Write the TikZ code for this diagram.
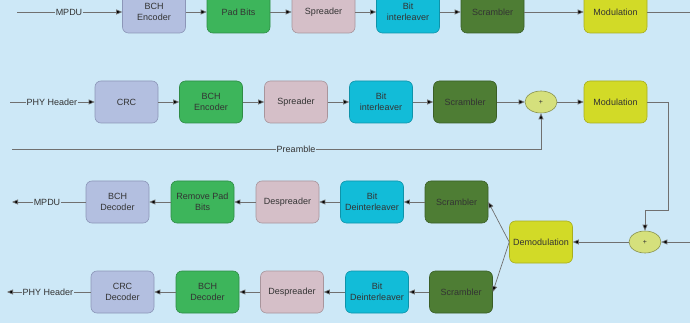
\documentclass[tikz,border=0pt]{standalone}
\usepackage{fontspec}
\setmainfont{Liberation Sans}
\usetikzlibrary{arrows.meta,shapes.geometric}
\definecolor{bg}{HTML}{CDE8F7}
\definecolor{lavf}{HTML}{B3BFE0}\definecolor{lavd}{HTML}{8C96B8}
\definecolor{grnf}{HTML}{3DB55B}\definecolor{grnd}{HTML}{2E8C45}
\definecolor{pnkf}{HTML}{D5BFC8}\definecolor{pnkd}{HTML}{A8959C}
\definecolor{cyf}{HTML}{12BCD8}\definecolor{cyd}{HTML}{0E93AA}
\definecolor{dgf}{HTML}{4E7D34}\definecolor{dgd}{HTML}{3A5E26}
\definecolor{ylf}{HTML}{D2DA27}\definecolor{yld}{HTML}{A8AE1F}
\definecolor{elf}{HTML}{D5E07C}\definecolor{eld}{HTML}{8A9450}
\definecolor{ln}{HTML}{707070}
\definecolor{tx}{HTML}{333333}
\tikzset{
  blk/.style={rounded corners=6pt, minimum width=63pt, minimum height=42pt, align=center, inner sep=1pt, font=\fontsize{9}{10.5}\selectfont, text=tx, line width=0.6pt},
  lav/.style={blk, fill=lavf, draw=lavd},
  grn/.style={blk, fill=grnf, draw=grnd},
  pnk/.style={blk, fill=pnkf, draw=pnkd},
  cyn/.style={blk, fill=cyf, draw=cyd},
  dgr/.style={blk, fill=dgf, draw=dgd},
  ylw/.style={blk, fill=ylf, draw=yld},
  sumnode/.style={ellipse, fill=elf, draw=eld, minimum width=32pt, minimum height=22pt, inner sep=0pt, font=\fontsize{7}{8}\selectfont, text=tx, line width=0.6pt},
  lbl/.style={fill=bg, inner sep=0.5pt, font=\fontsize{9}{10.5}\selectfont, text=tx},
  conn/.style={draw=ln, line width=0.7pt, -{Triangle[length=6pt,width=5pt,fill=black]}},
  plain/.style={draw=ln, line width=0.7pt},
}
\begin{document}
\begin{tikzpicture}[x=1pt,y=-1pt]
\fill[bg] (0,0) rectangle (690,323);
\useasboundingbox (0,0) rectangle (690,323);
% Row 1
\node[lav] (b1) at (154,12) {BCH\\Encoder};
\node[grn] (p1) at (238.5,12) {Pad Bits};
\node[pnk] (s1) at (323.5,12) {Spreader};
\node[cyn] (i1) at (408,12) {Bit\\interleaver};
\node[dgr] (c1) at (492.5,12) {Scrambler};
\node[ylw] (m1) at (615.5,12) {Modulation};
\coordinate (in1) at (17,12);
\coordinate (out1) at (690,12);
\node[lbl] (t1) at (69,12) {MPDU};
\draw[plain] (in1) -- (t1.west);
\draw[conn] (t1.east) -- (b1);
\draw[conn] (b1) -- (p1);
\draw[conn] (p1) -- (s1);
\draw[conn] (s1) -- (i1);
\draw[conn] (i1) -- (c1);
\draw[conn] (c1) -- (m1);
\draw[plain] (m1) -- (out1);
% Row 2
\node[lav] (cr2) at (126.5,102) {CRC};
\node[grn] (b2) at (211,102) {BCH\\Encoder};
\node[pnk] (s2) at (296,102) {Spreader};
\node[cyn] (i2) at (381,102) {Bit\\interleaver};
\node[dgr] (c2) at (465,102) {Scrambler};
\node[sumnode] (a2) at (541,102) {+};
\node[ylw] (m2) at (615.5,102) {Modulation};
\coordinate (in2) at (10,102);
\node[lbl] (t2) at (52,102) {PHY Header};
\draw[plain] (in2) -- (t2.west);
\draw[conn] (t2.east) -- (cr2);
\draw[conn] (cr2) -- (b2);
\draw[conn] (b2) -- (s2);
\draw[conn] (s2) -- (i2);
\draw[conn] (i2) -- (c2);
\draw[conn] (c2) -- (a2);
\draw[conn] (a2) -- (m2);
\coordinate (pre) at (12,149);
\node[lbl] (tp) at (296,149) {Preamble};
\draw[plain] (pre) -- (tp.west);
\draw[conn] (tp.east) -| (a2.south);
% Receiver
\node[ylw] (dm) at (541,242) {Demodulation};
\node[sumnode] (a3) at (645,242) {+};
\coordinate (in3) at (690,242);
\coordinate (k1) at (668,102);
\coordinate (k2) at (668,210);
\draw[conn] (m2.east) -- (k1) -- (k2) -| (a3.north);
\draw[conn] (in3) -- (a3);
\draw[conn] (a3) -- (dm);
% Row 3
\node[lav] (bd3) at (117.5,202) {BCH\\Decoder};
\node[grn] (r3) at (202.5,202) {Remove Pad\\Bits};
\node[pnk] (d3) at (287.5,202) {Despreader};
\node[cyn] (i3) at (372,202) {Bit\\Deinterleaver};
\node[dgr] (c3) at (456.5,202) {Scrambler};
\node[lbl] (t3) at (47,202) {MPDU};
\coordinate (o3) at (12,202);
\draw[conn] (dm.west) -- (c3.east);
\draw[conn] (c3) -- (i3);
\draw[conn] (i3) -- (d3);
\draw[conn] (d3) -- (r3);
\draw[conn] (r3) -- (bd3);
\draw[plain] (bd3) -- (t3.east);
\draw[conn] (t3.west) -- (o3);
% Row 4
\node[lav] (cd4) at (122.5,292) {CRC\\Decoder};
\node[grn] (bd4) at (207.5,292) {BCH\\Decoder};
\node[pnk] (d4) at (292,292) {Despreader};
\node[cyn] (i4) at (377,292) {Bit\\Deinterleaver};
\node[dgr] (c4) at (461,292) {Scrambler};
\node[lbl] (t4) at (48,292) {PHY Header};
\coordinate (o4) at (7,292);
\draw[conn] (dm.west) -- (c4.east);
\draw[conn] (c4) -- (i4);
\draw[conn] (i4) -- (d4);
\draw[conn] (d4) -- (bd4);
\draw[conn] (bd4) -- (cd4);
\draw[plain] (cd4) -- (t4.east);
\draw[conn] (t4.west) -- (o4);
\end{tikzpicture}
\end{document}
